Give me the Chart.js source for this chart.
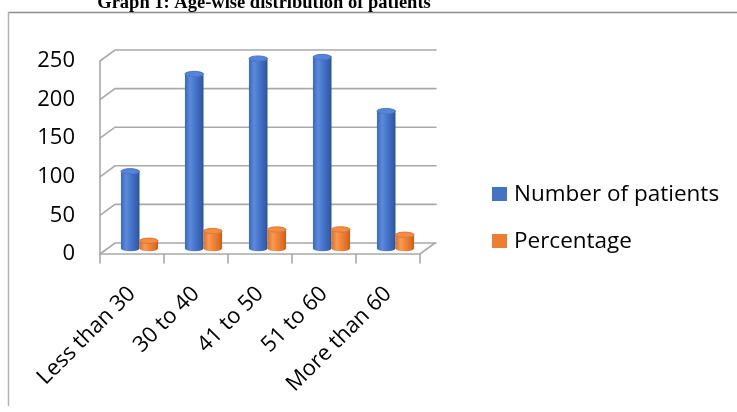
<!DOCTYPE html>
<html>
<head>
<meta charset="utf-8">
<script src="https://cdn.jsdelivr.net/npm/chart.js@4.4.1/dist/chart.umd.min.js"></script>
<style>
  html, body { margin: 0; padding: 0; background: #ffffff; }
  #wrap { position: relative; width: 737px; height: 412px; }
  canvas { display: block; }
</style>
</head>
<body>
<div id="wrap"><canvas id="c" width="737" height="412"></canvas></div>
<script>
// Age groups and the two series plotted for each group
const chartTitle = 'Graph 1: Age-wise distribution of patients';
const ageGroups = ['Less than 30', '30 to 40', '41 to 50', '51 to 60', 'More than 60'];
const patientCounts = [100, 226, 246, 248, 178];
const patientPercent = [10.0, 22.6, 24.6, 24.8, 17.8];
const seriesNames = ['Number of patients', 'Percentage'];
const yTickValues = [0, 50, 100, 150, 200, 250];

const BLUE = '#4472c4';
const ORANGE = '#ed7d31';
const GRID = '#a9a9a9';
const FONT = '"Open Sans", "Noto Sans", sans-serif';

// depth of the 3D box: back wall offset, and the plane the columns stand in
const DEPTH = { x: 15, y: -11 };
const MID = { x: 7.5, y: -5.5 };

const shades = {
  [BLUE]: {
    body: [[0, '#3c67b7'], [0.28, '#5c8bdd'], [0.55, '#4675c9'], [0.85, '#3561b2'], [1, '#2c5298']],
    cap: '#5585d8', rim: '#3a67ba'
  },
  [ORANGE]: {
    body: [[0, '#de6f27'], [0.28, '#f99a52'], [0.55, '#f0823a'], [0.85, '#dc6d25'], [1, '#c55f1c']],
    cap: '#f48c44', rim: '#d66b23'
  }
};

function drawCylinder(ctx, cx, top, base, w, color) {
  const s = shades[color];
  const x0 = cx - w / 2, x1 = cx + w / 2;
  const rx = w / 2, ry = 2.7;
  const g = ctx.createLinearGradient(x0, 0, x1, 0);
  s.body.forEach(([o, c]) => g.addColorStop(o, c));
  ctx.beginPath();
  ctx.moveTo(x0, top);
  ctx.lineTo(x0, base);
  ctx.ellipse(cx, base, rx, ry, 0, Math.PI, 0, true);
  ctx.lineTo(x1, top);
  ctx.ellipse(cx, top, rx, ry, 0, 0, Math.PI, false);
  ctx.closePath();
  ctx.fillStyle = g;
  ctx.fill();
  ctx.beginPath();
  ctx.ellipse(cx, top, rx, ry, 0, 0, Math.PI * 2);
  ctx.fillStyle = s.cap;
  ctx.fill();
  ctx.lineWidth = 0.8;
  ctx.strokeStyle = s.rim;
  ctx.stroke();
}

const box3d = {
  id: 'box3d',
  beforeDatasetsDraw(chart) {
    const { ctx, scales: { x, y } } = chart;
    const left = x.left, right = x.right, bottom = y.bottom;
    ctx.save();
    ctx.strokeStyle = GRID;
    ctx.lineWidth = 1.6;
    ctx.lineCap = 'round';
    // side wall diagonals and back wall gridlines
    y.ticks.forEach(t => {
      const py = y.getPixelForValue(t.value);
      ctx.beginPath();
      ctx.moveTo(left, py);
      ctx.lineTo(left + DEPTH.x, py + DEPTH.y);
      ctx.lineTo(right + DEPTH.x + 1, py + DEPTH.y);
      ctx.stroke();
    });
    // vertical edge of the side wall
    ctx.beginPath();
    ctx.moveTo(left, y.getPixelForValue(yTickValues[yTickValues.length - 1]));
    ctx.lineTo(left, bottom);
    ctx.stroke();
    // floor front and right edges
    ctx.beginPath();
    ctx.moveTo(left, bottom);
    ctx.lineTo(right, bottom);
    ctx.lineTo(right + DEPTH.x, bottom + DEPTH.y);
    ctx.stroke();
    // category tick marks
    for (let i = 0; i <= ageGroups.length; i++) {
      const px = x.getPixelForValue(i - 0.5);
      ctx.beginPath();
      ctx.moveTo(px, bottom);
      ctx.lineTo(px, bottom + 9);
      ctx.stroke();
    }
    // columns as cylinders, from the bar elements laid out by the scales
    chart.data.datasets.forEach((ds, di) => {
      const meta = chart.getDatasetMeta(di);
      meta.data.forEach(bar => {
        const p = bar.getProps(['x', 'y', 'base', 'width'], true);
        drawCylinder(ctx, p.x + MID.x, p.y + MID.y, p.base + MID.y, p.width, ds.backgroundColor);
      });
    });
    ctx.restore();
    return false;
  },
  afterDraw(chart) {
    const { ctx } = chart;
    ctx.save();
    // outer frame
    ctx.lineWidth = 1.5;
    ctx.strokeStyle = '#8c8c8c';
    ctx.beginPath();
    ctx.moveTo(8, 12.5);
    ctx.lineTo(737, 12.5);
    ctx.stroke();
    ctx.strokeStyle = '#b3b3b3';
    ctx.beginPath();
    ctx.moveTo(8.5, 12);
    ctx.lineTo(8.5, 406);
    ctx.stroke();
    // title
    ctx.fillStyle = '#000';
    ctx.font = 'bold 18.5px "Liberation Serif", "Times New Roman", serif';
    ctx.textAlign = 'center';
    ctx.textBaseline = 'alphabetic';
    ctx.fillText(chartTitle, 264, 8);
    // legend
    ctx.font = '22.5px ' + FONT;
    ctx.textAlign = 'left';
    ctx.textBaseline = 'middle';
    chart.data.datasets.forEach((ds, i) => {
      const cy = 194 + i * 47;
      ctx.fillStyle = ds.backgroundColor;
      ctx.fillRect(492, cy - 7, 15, 14);
      ctx.fillStyle = '#000';
      ctx.fillText(ds.label, 514, cy + 1);
    });
    ctx.restore();
  }
};

new Chart(document.getElementById('c'), {
  type: 'bar',
  data: {
    labels: ageGroups,
    datasets: [
      { label: seriesNames[0], data: patientCounts, backgroundColor: BLUE },
      { label: seriesNames[1], data: patientPercent, backgroundColor: ORANGE }
    ]
  },
  options: {
    responsive: false,
    devicePixelRatio: 1,
    animation: false,
    layout: { padding: { left: 0, right: 317, top: 61, bottom: 0 } },
    datasets: { bar: { categoryPercentage: 0.58, barPercentage: 1 } },
    plugins: { legend: { display: false }, title: { display: false }, tooltip: { enabled: false } },
    scales: {
      x: {
        grid: { display: false },
        border: { display: false },
        ticks: {
          autoSkip: false, minRotation: 45, maxRotation: 45, padding: 19,
          color: '#000', font: { family: FONT, size: 22 }
        },
        afterFit(s) { s.height = 158; }
      },
      y: {
        min: 0, max: 250,
        grid: { display: false },
        border: { display: false },
        ticks: { padding: 17, color: '#000', font: { family: FONT, size: 22 } },
        afterBuildTicks(s) { s.ticks = yTickValues.map(v => ({ value: v })); },
        afterFit(s) { s.width = 100; }
      }
    }
  },
  plugins: [box3d]
});
</script>
</body>
</html>
